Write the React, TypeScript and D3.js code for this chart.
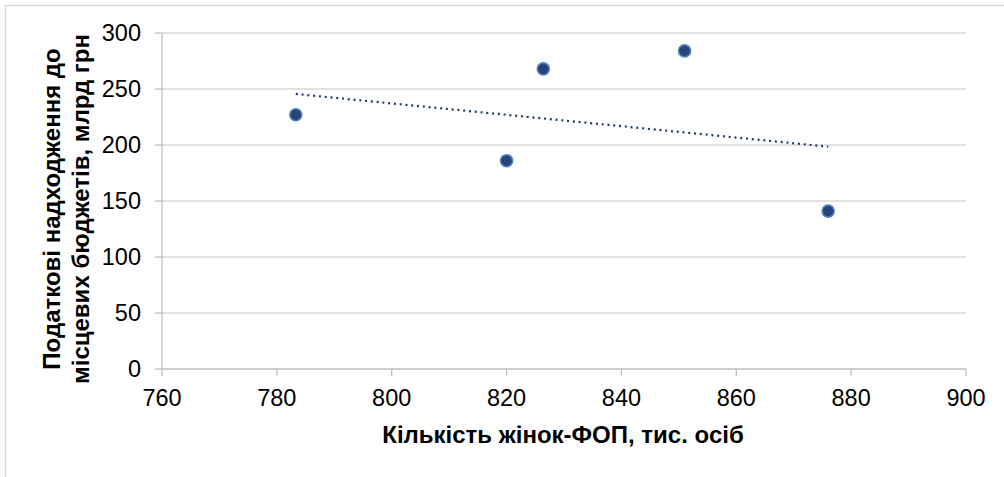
import React from "react";
import * as d3 from "d3";

const womenFop: number[] = [783.3, 820, 826.4, 851, 876];
const taxRevenue: number[] = [227, 186, 268, 284, 141];
const xTicks: number[] = [760, 780, 800, 820, 840, 860, 880, 900];
const yTicks: number[] = [0, 50, 100, 150, 200, 250, 300];
const xTitle = "Кількість жінок-ФОП, тис. осіб";
const yTitleLines: string[] = ["Податкові надходження до", "місцевих бюджетів, млрд грн"];

const W = 1004;
const H = 477;
const FONT = "'Liberation Sans', Arial, sans-serif";

export default function App() {
  const x = d3.scaleLinear().domain([760, 900]).range([162, 966]);
  const y = d3.scaleLinear().domain([0, 300]).range([369, 33]);

  const mx = d3.mean(womenFop) as number;
  const my = d3.mean(taxRevenue) as number;
  let num = 0;
  let den = 0;
  womenFop.forEach((v, i) => {
    num += (v - mx) * (taxRevenue[i] - my);
    den += (v - mx) * (v - mx);
  });
  const slope = num / den;
  const icpt = my - slope * mx;
  const [xmin, xmax] = d3.extent(womenFop) as [number, number];
  const trend = d3.line<number>().x((d) => x(d)).y((d) => y(icpt + slope * d));

  return (
    <svg
      width={W}
      height={H}
      style={{ position: "absolute", left: 0, top: 0, display: "block", background: "#fff" }}
      fontFamily={FONT}
    >
      <rect x={5.5} y={5.5} width={1010} height={490} fill="#fff" stroke="#d9d9d9" strokeWidth={1.5} />
      {yTicks.map((t) => (
        <g key={"y" + t}>
          {t > 0 && <line x1={x(760)} x2={x(900)} y1={y(t)} y2={y(t)} stroke="#d9d9d9" strokeWidth={1.3} />}
          <line x1={x(760) - 7} x2={x(760)} y1={y(t)} y2={y(t)} stroke="#bfbfbf" strokeWidth={1.3} />
          <text x={x(760) - 21} y={y(t)} dy="0.35em" textAnchor="end" fontSize={23.5} fill="#000">
            {t}
          </text>
        </g>
      ))}
      <line x1={x(760)} x2={x(760)} y1={y(0)} y2={y(300)} stroke="#bfbfbf" strokeWidth={1.3} />
      <line x1={x(760)} x2={x(900)} y1={y(0)} y2={y(0)} stroke="#bfbfbf" strokeWidth={1.3} />
      {xTicks.map((t) => (
        <g key={"x" + t}>
          <line x1={x(t)} x2={x(t)} y1={y(0)} y2={y(0) + 7} stroke="#bfbfbf" strokeWidth={1.3} />
          <text x={x(t)} y={y(0) + 37} textAnchor="middle" fontSize={23.5} fill="#000">
            {t}
          </text>
        </g>
      ))}
      <path
        d={trend([xmin, xmax]) || ""}
        fill="none"
        stroke="#203864"
        strokeWidth={2.2}
        strokeDasharray="2 3.8"
      />
      {womenFop.map((v, i) => (
        <circle key={"p" + i} cx={x(v)} cy={y(taxRevenue[i])} r={6} fill="#264478" stroke="#4f81bd" strokeWidth={1.6} />
      ))}
      <text x={(x(760) + x(900)) / 2 - 1} y={443} textAnchor="middle" fontSize={24} fontWeight="bold" fill="#000">
        {xTitle}
      </text>
      <g transform={`translate(0, ${(y(0) + y(300)) / 2 + 8}) rotate(-90)`}>
        {yTitleLines.map((l, i) => (
          <text key={l} x={0} y={60 + i * 29} textAnchor="middle" fontSize={24} fontWeight="bold" fill="#000">
            {l}
          </text>
        ))}
      </g>
    </svg>
  );
}
